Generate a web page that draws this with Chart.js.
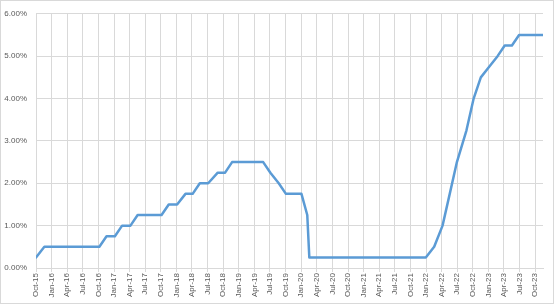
<!DOCTYPE html>
<html><head><meta charset="utf-8">
<script src="https://cdn.jsdelivr.net/npm/chart.js@4.4.1/dist/chart.umd.min.js"></script>
<style>html,body{margin:0;padding:0;background:#fff}#wrap{width:554px;height:304px;position:relative}</style>
</head><body><div id="wrap"><canvas id="c"></canvas></div>
<script>
// FOMC meeting dates and target rate (upper bound, %)
const meetingDates = [
 '2015-10-28','2015-12-16',
 '2016-01-27','2016-03-16','2016-04-27','2016-06-15','2016-07-27','2016-09-21','2016-11-02','2016-12-14',
 '2017-02-01','2017-03-15','2017-05-03','2017-06-14','2017-07-26','2017-09-20','2017-11-01','2017-12-13',
 '2018-01-31','2018-03-21','2018-05-02','2018-06-13','2018-08-01','2018-09-26','2018-11-08','2018-12-19',
 '2019-01-30','2019-03-20','2019-05-01','2019-06-19','2019-07-31','2019-09-18','2019-10-30','2019-12-11',
 '2020-01-29','2020-03-03','2020-03-15','2020-04-29','2020-06-10','2020-07-29','2020-09-16','2020-11-05','2020-12-16',
 '2021-01-27','2021-03-17','2021-04-28','2021-06-16','2021-07-28','2021-09-22','2021-11-03','2021-12-15',
 '2022-01-26','2022-03-16','2022-05-04','2022-06-15','2022-07-27','2022-09-21','2022-11-02','2022-12-14',
 '2023-02-01','2023-03-22','2023-05-03','2023-06-14','2023-07-26','2023-09-20','2023-11-01','2023-12-13'
];
const rateValues = [
 0.25,0.50,
 0.50,0.50,0.50,0.50,0.50,0.50,0.50,0.75,
 0.75,1.00,1.00,1.25,1.25,1.25,1.25,1.50,
 1.50,1.75,1.75,2.00,2.00,2.25,2.25,2.50,
 2.50,2.50,2.50,2.50,2.25,2.00,1.75,1.75,
 1.75,1.25,0.25,0.25,0.25,0.25,0.25,0.25,0.25,
 0.25,0.25,0.25,0.25,0.25,0.25,0.25,0.25,
 0.25,0.50,1.00,1.75,2.50,3.25,4.00,4.50,
 4.75,5.00,5.25,5.25,5.50,5.50,5.50,5.50
];
const tickLabels = [
 'Oct-15','Jan-16','Apr-16','Jul-16','Oct-16','Jan-17','Apr-17','Jul-17','Oct-17',
 'Jan-18','Apr-18','Jul-18','Oct-18','Jan-19','Apr-19','Jul-19','Oct-19',
 'Jan-20','Apr-20','Jul-20','Oct-20','Jan-21','Apr-21','Jul-21','Oct-21',
 'Jan-22','Apr-22','Jul-22','Oct-22','Jan-23','Apr-23','Jul-23','Oct-23'
];

const DAY = 86400000;
const parseISO = s => { const p = s.split('-').map(Number); return Date.UTC(p[0], p[1]-1, p[2]); };
const start = parseISO(meetingDates[0]);
const startDay = new Date(start).getUTCDate();
const MON = {Jan:0,Feb:1,Mar:2,Apr:3,May:4,Jun:5,Jul:6,Aug:7,Sep:8,Oct:9,Nov:10,Dec:11};
const tickDays = tickLabels.map(l => { const [m, y] = l.split('-'); return (Date.UTC(2000 + Number(y), MON[m], startDay) - start) / DAY; });
const points = meetingDates.map((d, i) => ({x: (parseISO(d) - start) / DAY, y: rateValues[i]}));
const lastDay = points[points.length - 1].x;

const GRID = '#d9d9d9', TXT = '#595959';
const FONT = {family: '"Liberation Sans", Arial, sans-serif', size: 8};

const borderPlugin = {
  id: 'frame',
  beforeDraw(chart) {
    const ctx = chart.ctx;
    ctx.save();
    ctx.fillStyle = '#fff';
    ctx.fillRect(0, 0, chart.width, chart.height);
    ctx.strokeStyle = GRID; ctx.lineWidth = 1;
    ctx.strokeRect(0.5, 0.5, chart.width - 1, chart.height - 1);
    ctx.restore();
  }
};

new Chart(document.getElementById('c'), {
  type: 'line',
  data: { datasets: [{
    data: points,
    borderColor: '#5B9BD5', borderWidth: 2.5,
    pointRadius: 0, tension: 0, fill: false,
    borderJoinStyle: 'round', borderCapStyle: 'round'
  }]},
  options: {
    responsive: true, maintainAspectRatio: false, animation: false,
    layout: { padding: { left: 0, right: 11, top: 11, bottom: 0 } },
    plugins: { legend: { display: false }, tooltip: { enabled: false } },
    scales: {
      x: {
        type: 'linear', min: 0, max: lastDay,
        afterBuildTicks: s => { s.ticks = tickDays.map(v => ({value: v})); },
        afterFit: s => { s.height = 36; },
        grid: { color: GRID, lineWidth: 1, drawTicks: true, tickLength: 4, tickColor: GRID },
        border: { color: GRID },
        ticks: {
          autoSkip: false, minRotation: 90, maxRotation: 90, padding: 1,
          color: TXT, font: FONT,
          callback: (v) => { const i = tickDays.indexOf(v); return i >= 0 ? tickLabels[i] : ''; }
        }
      },
      y: {
        min: 0, max: 6,
        afterFit: s => { s.width = 36; },
        grid: { color: GRID, lineWidth: 1, drawTicks: false },
        border: { display: false },
        ticks: { stepSize: 1, padding: 9, color: TXT, font: FONT,
          callback: v => v.toFixed(2) + '%' }
      }
    }
  },
  plugins: [borderPlugin]
});
</script></body></html>
